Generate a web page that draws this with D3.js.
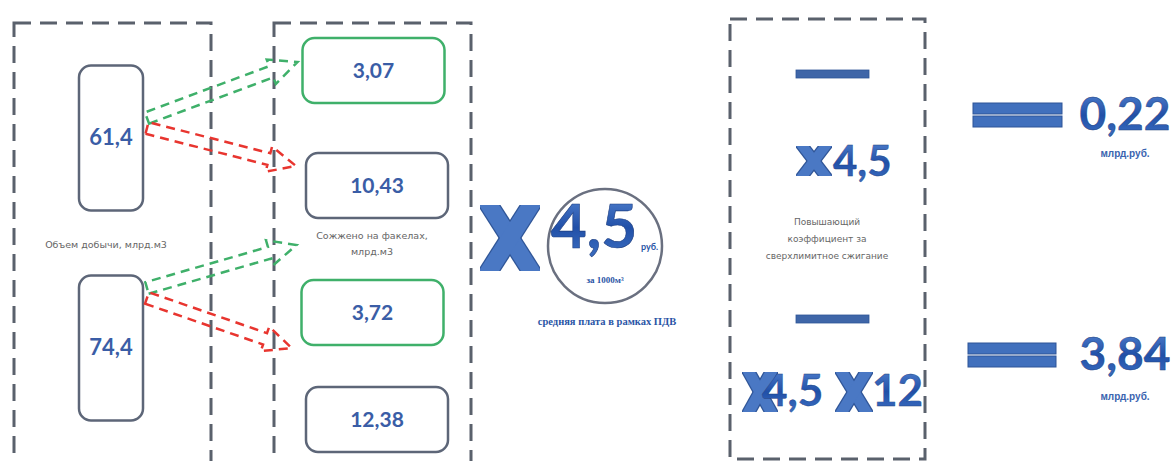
<!DOCTYPE html>
<html>
<head>
<meta charset="utf-8">
<script src="https://cdn.jsdelivr.net/npm/d3@7"></script>
<style>
  html, body { margin: 0; padding: 0; background: #ffffff; }
  svg { display: block; }
</style>
</head>
<body>
<svg id="chart" width="1176" height="461"></svg>
<script>
// ---------- data ----------
const volumeValues = [61.4, 74.4];
const volumeLabel = "Объем добычи, млрд.м3";
const flaredValues = [3.07, 10.43, 3.72, 12.38];
const flaredStatus = ["limit", "over", "limit", "over"];
const flaredLabel = ["Сожжено на факелах,", "млрд.м3"];
const avgRate = 4.5;
const rateUnit = "руб.";
const rateBase = "за 1000м³";
const rateCaption = "средняя плата в рамках ПДВ";
const coefLabel = ["Повышающий", "коэффициент за", "сверхлимитное  сжигание"];
const multipliers = [[4.5], [4.5, 12]];
const results = [0.22, 3.84];
const resultUnit = "млрд.руб.";

// ---------- setup ----------
const ru = d3.formatLocale({decimal: ",", thousands: " ", grouping: [3], currency: ["", ""]});
const f1 = ru.format(".1f"), f2 = ru.format(".2f");
const fm = v => Number.isInteger(v) ? ru.format("d")(v) : f1(v);

const svg = d3.select("#chart");
const defs = svg.append("defs");
const g1 = defs.append("linearGradient").attr("id", "blueGrad").attr("x1", 0).attr("y1", 0).attr("x2", 0).attr("y2", 1);
g1.append("stop").attr("offset", "0%").attr("stop-color", "#5a8ad6");
g1.append("stop").attr("offset", "55%").attr("stop-color", "#2150a8");
g1.append("stop").attr("offset", "100%").attr("stop-color", "#3f72c4");

const numFont = "Lato, 'Open Sans', sans-serif";
const boxGray = "#5d6678";
const numBlue = "#3a5da6";
const green = "#3fb06a";
const red = "#e8352f";
const dashGray = "#5a616c";

// dashed frames
const frames = [
  {x: 14, y: 23, w: 197, h: 460},
  {x: 274, y: 23, w: 197, h: 460},
  {x: 730, y: 19, w: 195, h: 440}
];
svg.selectAll("rect.frame").data(frames).join("rect")
  .attr("class", "frame")
  .attr("x", d => d.x).attr("y", d => d.y).attr("width", d => d.w).attr("height", d => d.h)
  .attr("fill", "none").attr("stroke", dashGray).attr("stroke-width", 3)
  .attr("stroke-dasharray", "17,9");

// ---------- volumes (pills) ----------
const yVol = d3.scalePoint().domain(d3.range(volumeValues.length)).range([137.5, 347.5]);
const pill = svg.selectAll("g.vol").data(volumeValues).join("g").attr("class", "vol")
  .attr("transform", (d, i) => `translate(111,${yVol(i)})`);
pill.append("rect").attr("x", -32).attr("y", -72).attr("width", 64).attr("height", 145).attr("rx", 12)
  .attr("fill", "#fff").attr("stroke", boxGray).attr("stroke-width", 2.5);
pill.append("text").attr("text-anchor", "middle").attr("dy", "0.36em")
  .attr("font-family", numFont).attr("font-weight", 700).attr("font-size", 22)
  .attr("fill", numBlue).text(d => f1(d));

svg.append("text").attr("x", 106).attr("y", 248).attr("text-anchor", "middle")
  .attr("font-family", "'DejaVu Sans', sans-serif").attr("font-size", 9.5).attr("fill", "#666")
  .text(volumeLabel);

// ---------- flared boxes ----------
const flCenterY = [70.5, 185.5, 312.5, 419.5];
const flCenterX = [373.5, 377, 372.5, 377];
const fl = svg.selectAll("g.fl").data(flaredValues).join("g").attr("class", "fl")
  .attr("transform", (d, i) => `translate(${flCenterX[i]},${flCenterY[i]})`);
fl.append("rect").attr("x", -71).attr("y", -32.5).attr("width", 142).attr("height", 65).attr("rx", 12)
  .attr("fill", "#fff")
  .attr("stroke", (d, i) => flaredStatus[i] === "limit" ? green : boxGray).attr("stroke-width", 2.5);
fl.append("text").attr("text-anchor", "middle").attr("dy", "0.36em")
  .attr("font-family", numFont).attr("font-weight", 700).attr("font-size", 21)
  .attr("fill", numBlue).text(d => f2(d));

svg.append("g").selectAll("text").data(flaredLabel).join("text")
  .attr("x", 372).attr("y", (d, i) => 239 + i * 16).attr("text-anchor", "middle")
  .attr("font-family", "'DejaVu Sans', sans-serif").attr("font-size", 9.5).attr("fill", "#666")
  .text(d => d);

// ---------- dashed block arrows ----------
function arrowPath(x0, y0, x1, y1, sw, hw, hl) {
  const dx = x1 - x0, dy = y1 - y0, L = Math.hypot(dx, dy);
  const ux = dx / L, uy = dy / L, nx = -uy, ny = ux;
  const bx = x1 - ux * hl, by = y1 - uy * hl;
  const pts = [
    [x0 + nx * sw, y0 + ny * sw], [bx + nx * sw, by + ny * sw], [bx + nx * hw, by + ny * hw],
    [x1, y1],
    [bx - nx * hw, by - ny * hw], [bx - nx * sw, by - ny * sw], [x0 - nx * sw, y0 - ny * sw]
  ];
  return d3.line()(pts) + "Z";
}
// arrows: from a pill (tail offset from its centre) to a box (tip offset from its centre)
const arrowLinks = [
  {pill: 0, tailDy: -19.5, box: 0, tipDy: -8.5, color: green},
  {pill: 0, tailDy: -9.5, box: 1, tipDy: -19.5, color: red},
  {pill: 1, tailDy: -59.5, box: 2, tipDy: -67.5, color: green},
  {pill: 1, tailDy: -49.5, box: 2, tipDy: 35.5, color: red}
];
const pillRight = 111 + 32 + 4;
svg.selectAll("path.arrow").data(arrowLinks).join("path").attr("class", "arrow")
  .attr("d", d => arrowPath(pillRight, yVol(d.pill) + d.tailDy,
                            flCenterX[d.box] - 71 - (d.color === red ? 10 : 5), flCenterY[d.box] + d.tipDy, 6, 13, 28))
  .attr("fill", "none").attr("stroke", d => d.color).attr("stroke-width", 2.5)
  .attr("stroke-dasharray", "9,6").attr("stroke-linejoin", "miter");

// ---------- X glyph helper (two thick diagonals clipped flat) ----------
let clipId = 0;
function drawX(cx, cy, w, h, t) {
  const id = "xclip" + (clipId++);
  defs.append("clipPath").attr("id", id).append("rect")
    .attr("x", cx - w / 2 - 3).attr("y", cy - h / 2).attr("width", w + 6).attr("height", h);
  const g = svg.append("g").attr("clip-path", `url(#${id})`);
  const ext = 0.2;
  const a = w / 2 - t * 0.35, b = h / 2;
  const lines = [
    [[cx - a * (1 + ext), cy - b * (1 + ext)], [cx + a * (1 + ext), cy + b * (1 + ext)]],
    [[cx + a * (1 + ext), cy - b * (1 + ext)], [cx - a * (1 + ext), cy + b * (1 + ext)]]
  ];
  g.selectAll("path.o").data(lines).join("path").attr("d", d => d3.line()(d))
    .attr("stroke", "#2f5597").attr("stroke-width", t + 2.5).attr("fill", "none");
  g.selectAll("path.i").data(lines).join("path").attr("d", d => d3.line()(d))
    .attr("stroke", "#4a78c4").attr("stroke-width", t).attr("fill", "none");
}

// ---------- average rate ----------
drawX(510, 238, 54, 66, 17);
svg.append("circle").attr("cx", 605).attr("cy", 246).attr("r", 57)
  .attr("fill", "none").attr("stroke", "#6a7080").attr("stroke-width", 2.5);
svg.append("text").attr("x", 594).attr("y", 248).attr("text-anchor", "middle")
  .attr("font-family", numFont).attr("font-weight", 700).attr("font-size", 62)
  .attr("fill", "url(#blueGrad)").attr("stroke", "#1f3f80").attr("stroke-width", 0.6)
  .text(f1(avgRate));
svg.append("text").attr("x", 641).attr("y", 250)
  .attr("font-family", numFont).attr("font-weight", 700).attr("font-size", 9).attr("fill", "#2a55a6")
  .text(rateUnit);
svg.append("text").attr("x", 605).attr("y", 283).attr("text-anchor", "middle")
  .attr("font-family", "'Liberation Serif', serif").attr("font-weight", 700).attr("font-size", 9).attr("fill", "#2a55a6")
  .text(rateBase);
svg.append("text").attr("x", 607).attr("y", 325).attr("text-anchor", "middle")
  .attr("font-family", "'Liberation Serif', serif").attr("font-weight", 700).attr("font-size", 10.5).attr("fill", "#2a55a6")
  .text(rateCaption);

// ---------- coefficient box ----------
const minusY = [74, 319];
svg.selectAll("rect.minus").data(minusY).join("rect").attr("class", "minus")
  .attr("x", 796).attr("y", d => d - 4).attr("width", 73).attr("height", 8)
  .attr("fill", "#3f66a8").attr("stroke", "#2f5597").attr("stroke-width", 0.8);

// row 1: × 4,5
drawX(814, 161, 30, 30, 10);
svg.append("text").attr("x", 833).attr("y", 176)
  .attr("font-family", numFont).attr("font-weight", 700).attr("font-size", 42)
  .attr("fill", "url(#blueGrad)").attr("stroke", "#1f3f80").attr("stroke-width", 0.4)
  .text(fm(multipliers[0][0]));

svg.append("g").selectAll("text").data(coefLabel).join("text")
  .attr("x", 827).attr("y", (d, i) => 225 + i * 17).attr("text-anchor", "middle")
  .attr("font-family", "'DejaVu Sans', sans-serif").attr("font-size", 9).attr("fill", "#666")
  .text(d => d);

// row 2: ×4,5 ×12
drawX(760, 392, 30, 40, 11);
svg.append("text").attr("x", 762).attr("y", 406)
  .attr("font-family", numFont).attr("font-weight", 700).attr("font-size", 44)
  .attr("fill", "url(#blueGrad)").attr("stroke", "#1f3f80").attr("stroke-width", 0.4)
  .text(fm(multipliers[1][0]));
drawX(854, 392, 32, 40, 11);
svg.append("text").attr("x", 872).attr("y", 406)
  .attr("font-family", numFont).attr("font-weight", 700).attr("font-size", 44)
  .attr("fill", "url(#blueGrad)").attr("stroke", "#1f3f80").attr("stroke-width", 0.4)
  .text(fm(multipliers[1][1]));

// ---------- results ----------
const resPos = [{ex: 973, ey: 103, ew: 89, ty: 130, uy: 157}, {ex: 968, ey: 343, ew: 88, ty: 370, uy: 400}];
const res = svg.selectAll("g.res").data(results).join("g").attr("class", "res");
res.each(function(d, i) {
  const p = resPos[i], g = d3.select(this);
  [0, 1].forEach(k => g.append("rect").attr("x", p.ex).attr("y", p.ey + k * 13).attr("width", p.ew).attr("height", 11)
    .attr("fill", "#4170bd").attr("stroke", "#2f5597").attr("stroke-width", 1));
  g.append("text").attr("x", 1125).attr("y", p.ty).attr("text-anchor", "middle")
    .attr("font-family", numFont).attr("font-weight", 700).attr("font-size", 46)
    .attr("fill", "url(#blueGrad)").attr("stroke", "#1f3f80").attr("stroke-width", 0.5)
    .text(f2(d));
  g.append("text").attr("x", 1125).attr("y", p.uy).attr("text-anchor", "middle")
    .attr("font-family", "'Liberation Sans', sans-serif").attr("font-weight", 700).attr("font-size", 10)
    .attr("fill", "#3a64b0").text(resultUnit);
});
</script>
</body>
</html>
